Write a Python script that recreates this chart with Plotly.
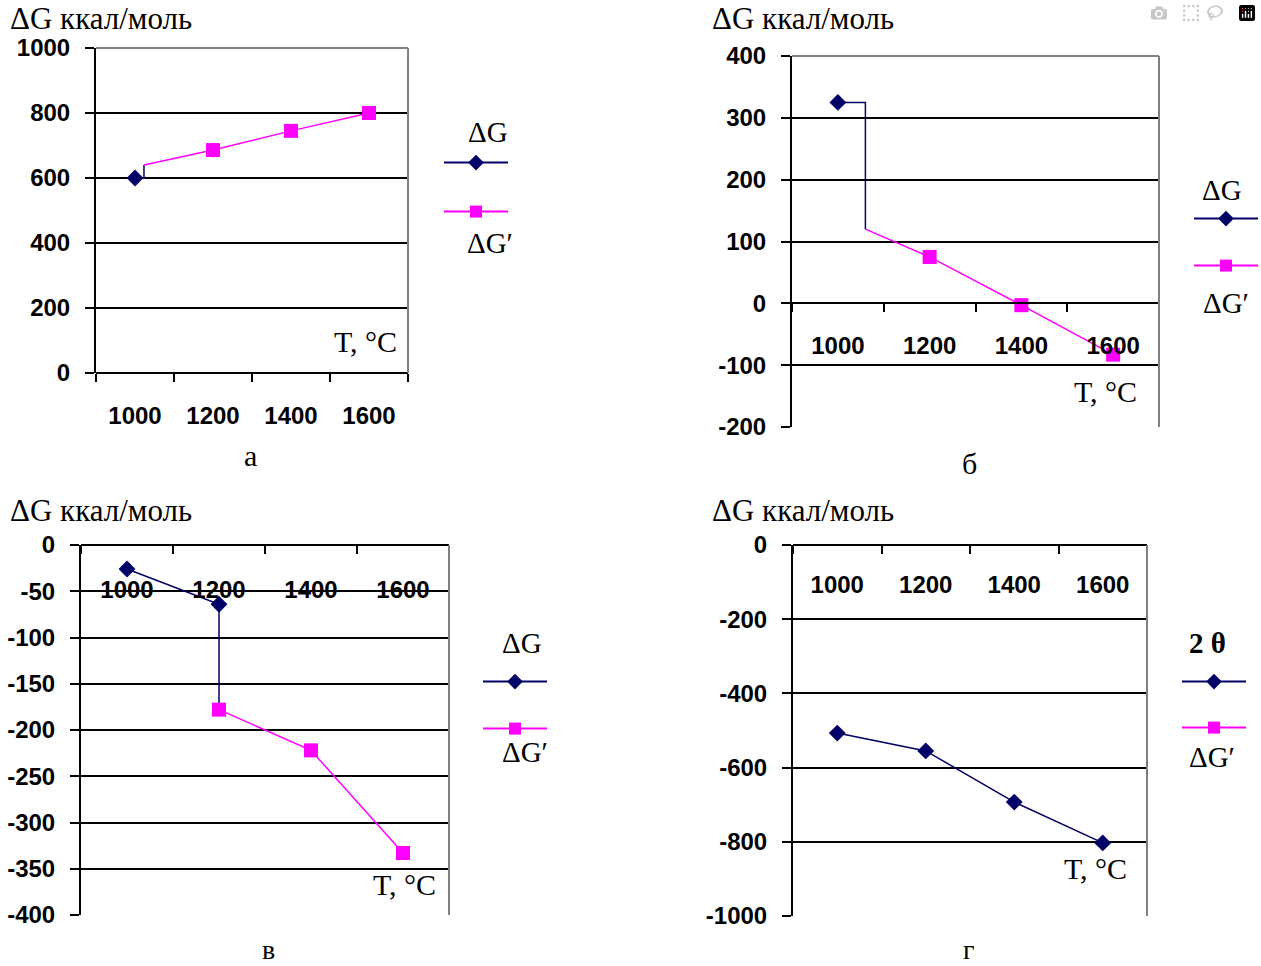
import plotly.graph_objects as go

# ---------------- data ----------------
T = [1000, 1200, 1400, 1600]
T_LABELS = ["1000", "1200", "1400", "1600"]

# panel а
a_dG = [600, None, None, None]
a_dGp = [None, 686, 745, 800]
a_transition_T = 1023
a_dGp_start = 640
a_yticks = [0, 200, 400, 600, 800, 1000]

# panel б
b_dG = [325, None, None, None]
b_dGp = [None, 75, -3, -83]
b_transition_T = 1060
b_dGp_start = 120
b_yticks = [-200, -100, 0, 100, 200, 300, 400]

# panel в
c_dG = [-26, -64, None, None]
c_dGp = [None, -178, -222, -333]
c_transition_T = 1200
c_dGp_start = -178
c_yticks = [0, -50, -100, -150, -200, -250, -300, -350, -400]

# panel г
d_dG = [-507, -555, -693, -803]
d_dGp = [None, None, None, None]
d_transition_T = None
d_dGp_start = None
d_yticks = [0, -200, -400, -600, -800, -1000]

Y_TITLE = "ΔG ккал/моль"
X_TITLE = "T, °C"
LEG_DG = "ΔG"
LEG_DGP = "ΔG′"

# ---------------- layout helpers ----------------
W, H = 1261, 966
NAVY = "#000066"
MAG = "#FF00FF"
SERIF = "Liberation Serif"
SANS = "Liberation Sans"


def px(x):
    return x / W


def py(y):
    return 1 - y / H


panels = [
    dict(box=(96, 48, 408, 373), yr=[0, 1000], dG=a_dG, dGp=a_dGp, tr=a_transition_T, tr_v=a_dGp_start,
         yt=a_yticks, label="а", label_xy=(250, 455), label_bottom=False, tc_xy=(399, 341), title_xy=(8, 18),
         x_standoff=21, leg_x=444, leg_y=(163, 212), leg_t1=(LEG_DG, 488, 132), leg_t2=(490, 243),
         top_border=True),
    dict(box=(792, 56, 1159, 427), yr=[-200, 400], dG=b_dG, dGp=b_dGp, tr=b_transition_T, tr_v=b_dGp_start,
         yt=b_yticks, label="б", label_xy=(969, 463), label_bottom=False, tc_xy=(1139, 391), title_xy=(710, 18),
         x_standoff=21, leg_x=1194, leg_y=(219, 266), leg_t1=(LEG_DG, 1222, 190), leg_t2=(1226, 303),
         top_border=True),
    dict(box=(81, 545, 449, 915), yr=[-400, 0], dG=c_dG, dGp=c_dGp, tr=c_transition_T, tr_v=c_dGp_start,
         yt=c_yticks, label="в", label_xy=(268, 966), label_bottom=True, tc_xy=(438, 884), title_xy=(8, 510),
         x_standoff=23, leg_x=483, leg_y=(682, 729), leg_t1=(LEG_DG, 522, 643), leg_t2=(525, 752),
         top_border=False),
    dict(box=(793, 545, 1147, 916), yr=[-1000, 0], dG=d_dG, dGp=d_dGp, tr=d_transition_T, tr_v=d_dGp_start,
         yt=d_yticks, label="г", label_xy=(968, 966), label_bottom=True, tc_xy=(1129, 868), title_xy=(710, 510),
         x_standoff=18, leg_x=1182, leg_y=(682, 728), leg_t1=("<b>2 θ</b>", 1207, 643), leg_t2=(1212, 757),
         top_border=False),
]

fig = go.Figure()
layout = dict(
    width=W, height=H, autosize=False,
    margin=dict(l=0, r=0, t=0, b=0, pad=0, autoexpand=False),
    paper_bgcolor="white", plot_bgcolor="white",
    showlegend=True,
    annotations=[], shapes=[],
)

for i, p in enumerate(panels, start=1):
    xs = "x" if i == 1 else f"x{i}"
    ys = "y" if i == 1 else f"y{i}"
    xa = "xaxis" if i == 1 else f"xaxis{i}"
    ya = "yaxis" if i == 1 else f"yaxis{i}"
    lg = "legend" if i == 1 else f"legend{(i - 1) * 2 + 1}"
    lg2 = f"legend{(i - 1) * 2 + 2}"
    x0, y0, x1, y1 = p["box"]
    ymin, ymax = p["yr"]
    dom_y = [py(y1), py(y0)]
    cross = dom_y[0] + (0 - ymin) / (ymax - ymin) * (dom_y[1] - dom_y[0])

    layout[xa] = dict(
        domain=[px(x0), px(x1)], range=[900, 1700], anchor="free", position=cross,
        tickmode="array", tickvals=T, ticktext=T_LABELS, ticks="",
        minor=dict(ticks="outside", tickmode="linear", tick0=900, dtick=200, ticklen=8,
                   tickwidth=2, tickcolor="black", showgrid=False),
        showline=True, linecolor="black", linewidth=2, showgrid=False, zeroline=False,
        tickfont=dict(family=SANS, size=24, color="black", weight="bold"),
        ticklabelstandoff=p["x_standoff"], fixedrange=True, automargin=False,
    )
    layout[ya] = dict(
        domain=dom_y, range=[ymin, ymax], anchor=xs,
        tickmode="array", tickvals=p["yt"], ticktext=[str(v) for v in p["yt"]],
        ticks="outside", ticklen=9, tickwidth=2, tickcolor="black",
        showline=True, linecolor="black", linewidth=2,
        showgrid=True, gridcolor="black", gridwidth=2, zeroline=False,
        tickfont=dict(family=SANS, size=24, color="black", weight="bold"),
        ticklabelstandoff=10, fixedrange=True, automargin=False,
    )

    # ΔG path (with step to ΔG′ at the transition temperature)
    g_T = [t for t, v in zip(T, p["dG"]) if v is not None]
    g_V = [v for v in p["dG"] if v is not None]
    gp_T = [t for t, v in zip(T, p["dGp"]) if v is not None]
    gp_V = [v for v in p["dGp"] if v is not None]
    line_T, line_V = list(g_T), list(g_V)
    if p["tr"] is not None:
        line_T += [p["tr"], p["tr"]]
        line_V += [g_V[-1], p["tr_v"]]
    fig.add_trace(go.Scatter(x=line_T, y=line_V, mode="lines", line=dict(color=NAVY, width=1.5),
                             xaxis=xs, yaxis=ys, showlegend=False, hoverinfo="skip"))
    if gp_T:
        pl_T = ([p["tr"]] if p["tr"] is not None else []) + gp_T
        pl_V = ([p["tr_v"]] if p["tr"] is not None else []) + gp_V
        fig.add_trace(go.Scatter(x=pl_T, y=pl_V, mode="lines", line=dict(color=MAG, width=1.5),
                                 xaxis=xs, yaxis=ys, showlegend=False, hoverinfo="skip"))
        fig.add_trace(go.Scatter(x=gp_T, y=gp_V, mode="markers",
                                 marker=dict(symbol="square", size=14, color=MAG),
                                 xaxis=xs, yaxis=ys, showlegend=False))
    fig.add_trace(go.Scatter(x=g_T, y=g_V, mode="markers",
                             marker=dict(symbol="diamond", size=13, color=NAVY),
                             xaxis=xs, yaxis=ys, showlegend=False))

    # legend samples
    fig.add_trace(go.Scatter(x=[None], y=[None], mode="lines+markers", name="",
                             line=dict(color=NAVY, width=2),
                             marker=dict(symbol="diamond", size=12, color=NAVY),
                             xaxis=xs, yaxis=ys, legend=lg, showlegend=True))
    fig.add_trace(go.Scatter(x=[None], y=[None], mode="lines+markers", name="",
                             line=dict(color=MAG, width=2),
                             marker=dict(symbol="square", size=12, color=MAG),
                             xaxis=xs, yaxis=ys, legend=lg2, showlegend=True))
    for key, yy in ((lg, p["leg_y"][0]), (lg2, p["leg_y"][1])):
        layout[key] = dict(x=px(p["leg_x"] - 5), y=py(yy), xanchor="left", yanchor="middle",
                           itemwidth=64, font=dict(size=14), bgcolor="rgba(0,0,0,0)",
                           borderwidth=0, tracegroupgap=0)

    # borders of the plot area
    xd = f"{xs} domain"
    yd = f"{ys} domain"
    layout["shapes"].append(dict(type="line", xref=xd, yref=yd, x0=1, x1=1, y0=0, y1=1,
                                 line=dict(color="#808080", width=2), layer="above"))
    if p["top_border"]:
        layout["shapes"].append(dict(type="line", xref=xd, yref=yd, x0=0, x1=1, y0=1, y1=1,
                                     line=dict(color="#808080", width=2), layer="above"))

    ann = layout["annotations"]
    ann.append(dict(text=Y_TITLE, x=px(p["title_xy"][0]), y=py(p["title_xy"][1]), xref="paper", yref="paper",
                    xanchor="left", yanchor="middle", showarrow=False,
                    font=dict(family=SERIF, size=31, color="black")))
    ann.append(dict(text=p["label"], x=px(p["label_xy"][0]), y=py(p["label_xy"][1]), xref="paper", yref="paper",
                    xanchor="center", yanchor="bottom" if p["label_bottom"] else "middle",
                    showarrow=False, borderpad=0,
                    font=dict(family=SERIF, size=28 if p["label_bottom"] else 30, color="black")))
    ann.append(dict(text=X_TITLE, x=px(p["tc_xy"][0]), y=py(p["tc_xy"][1]), xref="paper", yref="paper",
                    xanchor="right", yanchor="middle", showarrow=False,
                    font=dict(family=SERIF, size=30, color="black")))
    t1, tx, ty = p["leg_t1"]
    ann.append(dict(text=t1, x=px(tx), y=py(ty), xref="paper", yref="paper",
                    xanchor="center", yanchor="middle", showarrow=False,
                    font=dict(family=SERIF, size=29, color="black")))
    ann.append(dict(text=LEG_DGP, x=px(p["leg_t2"][0]), y=py(p["leg_t2"][1]), xref="paper", yref="paper",
                    xanchor="center", yanchor="middle", showarrow=False,
                    font=dict(family=SERIF, size=29, color="black")))

fig.update_layout(**layout)
fig.write_html("out.html", post_script="document.body.style.margin='0px';")
